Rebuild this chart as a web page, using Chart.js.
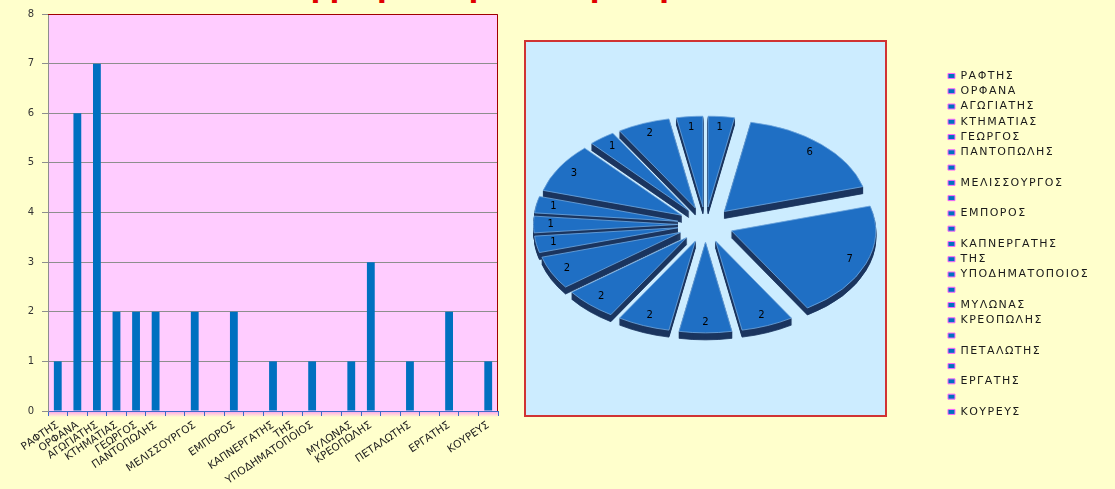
<!DOCTYPE html>
<html>
<head>
<meta charset="utf-8">
<script src="https://cdn.jsdelivr.net/npm/chart.js@4.4.0/dist/chart.umd.min.js"></script>
<style>
html, body { margin: 0; padding: 0; background: #FFFFCC; width: 1115px; height: 489px; overflow: hidden; }
body { position: relative; }
#title { position: absolute; left: 0; width: 975px; top: -26px; text-align: center; font: bold 28px "DejaVu Sans"; line-height: 28px; color: #E00000; white-space: nowrap; }
#bars { position: absolute; left: 0; top: 0; }
#pie { position: absolute; left: 520px; top: 0; }
</style>
</head>
<body>
<div id="title">Επαγγέλματα γονέων μαθητών</div>
<canvas id="bars" width="510" height="489"></canvas>
<canvas id="pie" width="595" height="489"></canvas>
<script>
const jobs = ['ΡΑΦΤΗΣ', 'ΟΡΦΑΝΑ', 'ΑΓΩΓΙΑΤΗΣ', 'ΚΤΗΜΑΤΙΑΣ', 'ΓΕΩΡΓΟΣ', 'ΠΑΝΤΟΠΩΛΗΣ', '', 'ΜΕΛΙΣΣΟΥΡΓΟΣ', '',
  'ΕΜΠΟΡΟΣ', '', 'ΚΑΠΝΕΡΓΑΤΗΣ', 'ΤΗΣ', 'ΥΠΟΔΗΜΑΤΟΠΟΙΟΣ', '', 'ΜΥΛΩΝΑΣ', 'ΚΡΕΟΠΩΛΗΣ', '', 'ΠΕΤΑΛΩΤΗΣ', '',
  'ΕΡΓΑΤΗΣ', '', 'ΚΟΥΡΕΥΣ']
const counts = [1, 6, 7, 2, 2, 2, 0, 2, 0, 2, 0, 1, 0, 1, 0, 1, 3, 0, 1, 0, 2, 0, 1]
const yMin = 0
const yMax = 8
const yStep = 1

const font = 'DejaVu Sans'

// pink plot area, dark red top/right edge
const plotFrame = {
  id: 'plotFrame',
  beforeDraw(chart) {
    const {ctx, chartArea: a} = chart
    ctx.save()
    ctx.fillStyle = '#FFCCFF'
    ctx.fillRect(a.left, a.top, a.width, a.height)
    const g = ctx.createLinearGradient(0, a.bottom, 0, a.bottom + 6)
    g.addColorStop(0, 'rgba(255,110,255,0.7)')
    g.addColorStop(1, 'rgba(255,110,255,0)')
    ctx.fillStyle = g
    ctx.fillRect(a.left, a.bottom, a.width, 6)
    ctx.restore()
  },
  afterDraw(chart) {
    const {ctx, chartArea: a} = chart
    ctx.save()
    ctx.strokeStyle = '#A00000'
    ctx.lineWidth = 1
    ctx.beginPath()
    ctx.moveTo(a.left, a.top + 0.5)
    ctx.lineTo(a.right - 0.5, a.top + 0.5)
    ctx.lineTo(a.right - 0.5, a.bottom)
    ctx.stroke()
    ctx.restore()
  }
}

new Chart('bars', {
  type: 'bar',
  data: {
    labels: jobs,
    datasets: [{
      data: counts,
      backgroundColor: '#0070C0',
      barPercentage: 0.4,
      categoryPercentage: 1
    }]
  },
  options: {
    responsive: false,
    animation: false,
    layout: { padding: { top: 10, right: 12, left: 0, bottom: 0 } },
    plugins: { legend: { display: false }, tooltip: { enabled: false } },
    scales: {
      x: {
        grid: { drawOnChartArea: false, color: '#3A6BC8', tickLength: 5 },
        border: { color: '#3A6BC8', width: 1 },
        ticks: { autoSkip: false, minRotation: 34, maxRotation: 34, color: '#222', padding: 3,
          font: { family: font, size: 10.5 } },
        afterFit: s => { s.height = 78 }
      },
      y: {
        min: yMin,
        max: yMax,
        ticks: { stepSize: yStep, color: '#333', padding: 8, font: { family: font, size: 10 } },
        grid: { color: '#8E8E8E', tickLength: 6 },
        border: { color: '#8E8E8E' },
        afterFit: s => { s.width = 48 }
      }
    }
  },
  plugins: [plotFrame]
})

// pie: light blue frame, tilted exploded slices with a dark side
const tilt = 0.63
const depth = 7
const explode = 28
const lift = -4

const pieBox = {
  id: 'pieBox',
  beforeDraw(chart) {
    const {ctx, chartArea: a} = chart
    ctx.letterSpacing = '1.5px'
    ctx.save()
    ctx.fillStyle = '#CCECFF'
    ctx.fillRect(a.left, a.top, a.width, a.height)
    ctx.strokeStyle = '#D03333'
    ctx.lineWidth = 2
    ctx.strokeRect(a.left + 1, a.top + 1, a.width - 2, a.height - 2)
    ctx.restore()
  }
}

const pie3d = {
  id: 'pie3d',
  beforeDatasetsDraw(chart) {
    const {ctx} = chart
    const arcs = chart.getDatasetMeta(0).data
    const cx = arcs[0].x, cy = arcs[0].y
    const drawArc = (a, dy, color) => {
      const mid = (a.startAngle + a.endAngle) / 2
      ctx.save()
      ctx.translate(Math.cos(mid) * explode, Math.sin(mid) * explode + dy)
      if (color) {
        const o = a.options
        a.options = Object.assign({}, o, { backgroundColor: color, borderColor: color })
        a.draw(ctx)
        a.options = o
      } else {
        a.draw(ctx)
      }
      ctx.restore()
    }
    ctx.save()
    ctx.translate(cx, cy + lift)
    ctx.scale(1, tilt)
    ctx.translate(-cx, -cy)
    for (let s = depth; s > 0; s--) arcs.forEach(a => drawArc(a, s / tilt, '#1B355F'))
    arcs.forEach(a => drawArc(a, 0))
    ctx.restore()

    // value labels
    ctx.save()
    ctx.letterSpacing = '0px'
    ctx.font = '10px "' + font + '"'
    ctx.fillStyle = '#000'
    ctx.textAlign = 'center'
    ctx.textBaseline = 'middle'
    arcs.forEach((a, i) => {
      if (!counts[i]) return
      const mid = (a.startAngle + a.endAngle) / 2
      const r = explode + 0.88 * a.outerRadius
      ctx.fillText(counts[i], a.x + Math.cos(mid) * r, a.y + lift + Math.sin(mid) * r * tilt)
    })
    ctx.restore()
    return false
  }
}

// legend sits outside the blue frame
const legendW = 228
const legendX = 423.7
const legendY = 66.2
const legendSpot = {
  id: 'legendSpot',
  beforeLayout(chart) {
    const lg = chart.legend
    if (lg && !lg._wide) {
      const fit = lg.fit
      lg.fit = function () { fit.call(this); this.width = legendW }
      lg._wide = true
    }
  },
  afterLayout(chart) {
    const lg = chart.legend
    lg.left = legendX
    lg.right = chart.width
    lg.top = legendY
    lg.bottom = chart.height
  }
}

new Chart('pie', {
  type: 'pie',
  data: {
    labels: jobs,
    datasets: [{
      data: counts,
      backgroundColor: '#1F6FC4',
      borderColor: '#6FA6DE',
      borderWidth: 1,
      radius: 144
    }]
  },
  options: {
    responsive: false,
    animation: false,
    layout: { padding: { left: 4, top: 40, bottom: 72, right: 0 } },
    plugins: {
      tooltip: { enabled: false },
      legend: {
        position: 'right',
        align: 'start',
        labels: {
          boxWidth: 7,
          boxHeight: 5,
          padding: 4.27,
          color: '#1a1a1a',
          font: { family: font, size: 11 },
          generateLabels(chart) {
            return Chart.overrides.doughnut.plugins.legend.labels.generateLabels(chart)
              .map(l => Object.assign(l, { fillStyle: '#0070C0', strokeStyle: '#FF66FF', lineWidth: 1, hidden: false }))
          }
        }
      }
    }
  },
  plugins: [pieBox, pie3d, legendSpot]
})
</script>
</body>
</html>
